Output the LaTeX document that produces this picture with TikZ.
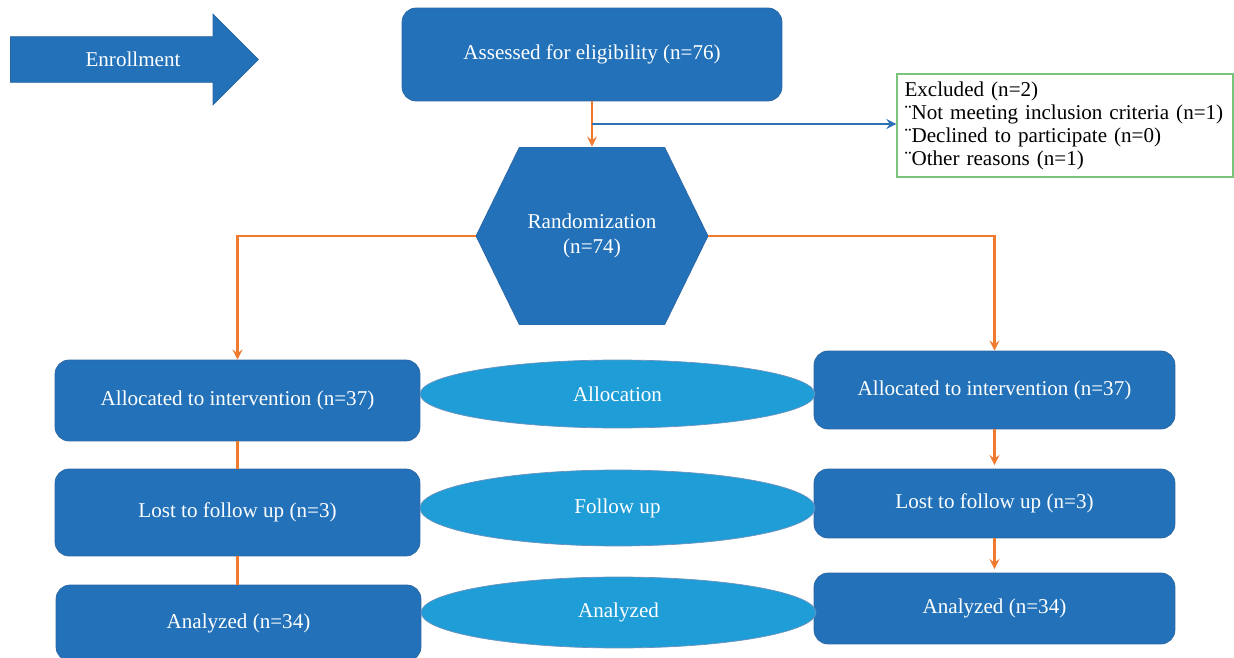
\documentclass[tikz,border=0pt]{standalone}
\usepackage{fontspec}
\setmainfont{Liberation Serif}
\usetikzlibrary{shapes.geometric,shapes.arrows,calc}
\definecolor{boxblue}{HTML}{2372B9}
\definecolor{boxedge}{HTML}{2A64A2}
\definecolor{ellblue}{HTML}{1E9DD6}
\definecolor{lineorange}{HTML}{F07B2E}
\definecolor{lineblue}{HTML}{2E74B5}
\definecolor{exgreen}{HTML}{7BC47B}

\begin{document}
\begin{tikzpicture}[x=0.02cm,y=-0.02cm,>=stealth,
	every node/.style={font=\fontsize{12}{14.5}\selectfont},
	box/.style={rectangle,rounded corners=8pt,fill=boxblue,draw=boxedge,text=white},
	phase/.style={ellipse,fill=ellblue,draw=boxedge!70,text=white,minimum width=7.9cm},
	hexa/.style={minimum width=4.64cm,minimum height=3.56cm,text=white,align=center,
		path picture={\filldraw[fill=boxblue,draw=boxedge]
			(path picture bounding box.west) -- ([xshift=.87cm]path picture bounding box.north west)
			-- ([xshift=-.87cm]path picture bounding box.north east) -- (path picture bounding box.east)
			-- ([xshift=-.87cm]path picture bounding box.south east) -- ([xshift=.87cm]path picture bounding box.south west) -- cycle;}},
	excl/.style={draw=exgreen,line width=.8pt,align=left,text width=6.42cm,inner xsep=.15cm,minimum height=2.06cm,font=\fontsize{12}{13.1}\selectfont},
	flow/.style={->,draw=lineorange,line width=1.5pt},
	link/.style={draw=lineorange,line width=1.5pt}]

	\useasboundingbox (0,0) rectangle (1234,658);

	\node[single arrow,single arrow head extend=.45cm,minimum height=4.96cm,minimum width=.9cm,inner ysep=.3cm,
		fill=boxblue,draw=boxedge,text=white] (enr) at (123,59.5) {\hspace*{.4cm}Enrollment};
	\node[box,minimum width=7.6cm,minimum height=1.86cm] (ass) at (592,54.5) {Assessed for eligibility (n=76)};
	\node[excl] (exc) at (1065,125.5) {Excluded (n=2)\\¨Not meeting inclusion criteria (n=1)\\¨Declined to participate (n=0)\\¨Other reasons (n=1)};
	\node[hexa] (rnd) at (592,236) {Randomization\\(n=74)};

	\node[box,minimum width=7.3cm,minimum height=1.62cm] (alL) at (237.5,400.5) {Allocated to intervention (n=37)};
	\node[box,minimum width=7.3cm,minimum height=1.74cm] (loL) at (237.5,512.5) {Lost to follow up (n=3)};
	\node[box,minimum width=7.3cm,minimum height=1.52cm] (anL) at (238.5,623) {Analyzed (n=34)};

	\node[box,minimum width=7.22cm,minimum height=1.56cm] (alR) at (994.5,390) {Allocated to intervention (n=37)};
	\node[box,minimum width=7.22cm,minimum height=1.38cm] (loR) at (994.5,503.5) {Lost to follow up (n=3)};
	\node[box,minimum width=7.22cm,minimum height=1.42cm] (anR) at (994.5,608.5) {Analyzed (n=34)};

	\node[phase,minimum height=1.36cm] (pAl) at (617.5,394) {Allocation};
	\node[phase,minimum height=1.52cm] (pFu) at (617.5,508) {Follow up};
	\node[phase,minimum height=1.42cm] (pAn) at (618.5,612.5) {Analyzed};

	\coordinate (split) at ($(ass.south)!.5!(rnd.north)$);
	\draw[flow] (ass) -- (rnd);
	\draw[->,draw=lineblue,line width=1.5pt] (split) -- (split -| exc.west);
	\draw[flow] (rnd.west) -| (alL.north);
	\draw[flow] (rnd.east) -| (alR.north);
	\draw[link] (alL) -- (loL);
	\draw[link] (loL.south) -- (loL.south |- anL.north);
	\draw[flow,shorten >=2pt] (alR) -- (loR);
	\draw[flow,shorten >=2pt] (loR) -- (anR);
\end{tikzpicture}
\end{document}
